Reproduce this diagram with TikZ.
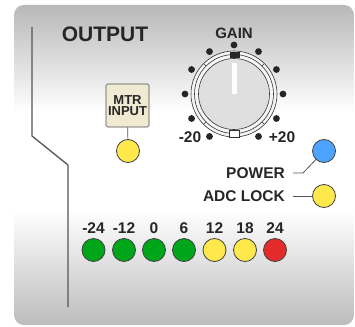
\documentclass[tikz,border=0pt]{standalone}
\usepackage{fontspec}
\setmainfont{Liberation Sans}
\usetikzlibrary{positioning}
\definecolor{panel_gray}{HTML}{B8B8B8}
\definecolor{led_green}{HTML}{00A61A}
\definecolor{led_yellow}{HTML}{FFE84C}
\definecolor{led_red}{HTML}{E32B2B}
\definecolor{led_blue}{HTML}{4DA3FF}
\definecolor{box_beige}{HTML}{F0EAD2}
\definecolor{line_gray}{HTML}{555555}
\definecolor{knob_gray}{HTML}{DFDFDF}

\tikzset{
  led/.style={circle, draw=black!75, line width=0.8pt, minimum size=23pt, inner sep=0pt},
  lbl/.style={font=\fontsize{15.5}{15.5}\selectfont\bfseries, text=black!85, inner sep=0pt},
  knobline/.style={draw=black!80, line width=0.6pt},
}

\begin{document}
\begin{tikzpicture}[x=1pt, y=-1pt]
	\useasboundingbox (0,0) rectangle (355,326);
	% panel with gradient
	\begin{scope}
		\clip [rounded corners=10pt] (14,5) -- (354,5) -- (354,325) -- (14,325) -- cycle;
		\shade [top color=panel_gray, bottom color=white] (14,5) rectangle (354,112);
		\fill [white] (14,111) rectangle (354,211);
		\shade [top color=white, bottom color=panel_gray!95] (14,210) rectangle (354,326);
	\end{scope}
	\draw [line_gray, line width=1.3pt] (32,27) -- (32,136) -- (68,165) -- (68,307);
	\node [lbl, font=\fontsize{21}{21}\selectfont\bfseries] (output) at (105,34) {OUTPUT};

	% gain knob
	\coordinate (knob) at (234,94);
	\node [lbl, font=\fontsize{15}{15}\selectfont\bfseries] (gain) at (234,33) {GAIN};
	\foreach \a in {120,150,...,420} {
		\fill [black!85] (knob) ++(\a:49) circle (3.4);
	}
	\draw [knobline, fill=black!4] (knob) circle (43);
	\draw [knobline] (knob) circle (39.5);
	\foreach \a in {45,135,225,315} {
		\draw [knobline] (knob) ++(\a:39.5) -- ++(\a:3.5);
	}
	\draw [knobline, fill=knob_gray] (knob) circle (35.5);
	\fill [black!85] (229.5,52) rectangle (239.5,58);
	\draw [knobline, fill=white] (229.5,130.5) rectangle (239.5,137);
	\fill [white] (232,63) rectangle (236.5,94);
	\node [lbl] (minus) at (190,137) {-20};
	\node [lbl] (plus) at (282,137) {+20};

	% meter input
	\node [draw=black!70, fill=box_beige, rounded corners=1.5pt, line width=0.7pt,
		minimum width=43pt, minimum height=43pt, inner sep=0pt, align=center,
		font=\fontsize{13}{11.5}\selectfont\bfseries, text=black!85] (mtr) at (127.5,105.5) {MTR\\INPUT};
	\node [led, fill=led_yellow] (mtrled) at (128,151) {};
	\draw [line_gray, line width=0.7pt] (mtr) -- (mtrled);

	% status leds
	\node [led, fill=led_blue] (power) at (324,151) {};
	\node [led, fill=led_yellow] (adc) at (324,196) {};
	\node [lbl, anchor=east] (powerlbl) at (285,173) {POWER};
	\node [lbl, anchor=east] (adclbl) at (285,196) {ADC LOCK};
	\draw [line_gray, line width=0.8pt] ([xshift=8pt]powerlbl.east) -- ++(10,0) -- (power);
	\draw [line_gray, line width=0.8pt] ([xshift=8pt]adclbl.east) -- (adc);

	% level meter
	\foreach \x/\v/\c [count=\i] in {93.5/-24/led_green, 124/-12/led_green, 154/0/led_green,
		184/6/led_green, 214.5/12/led_yellow, 245/18/led_yellow, 275/24/led_red} {
		\node [led, fill=\c] (meter\i) at (\x,250) {};
		\node [lbl] (level\i) at (\x,228) {\v};
	}
\end{tikzpicture}
\end{document}
